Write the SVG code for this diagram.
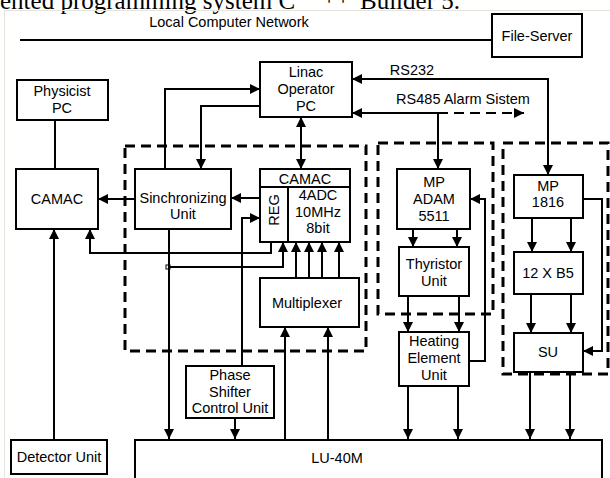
<svg xmlns="http://www.w3.org/2000/svg" width="610" height="478" viewBox="0 0 610 478">
<defs>
<marker id="ah" viewBox="0 0 10 10" refX="10" refY="5" markerWidth="10" markerHeight="10" markerUnits="userSpaceOnUse" orient="auto-start-reverse">
<path d="M0,0 L10,5 L0,10 z" fill="#000"/>
</marker>
<style>
.bx{fill:#fff;stroke:#000;stroke-width:2}
.dash{fill:none;stroke:#000;stroke-width:3;stroke-dasharray:10 6}
.ln{fill:none;stroke:#000;stroke-width:2}
.ar{fill:none;stroke:#000;stroke-width:2;marker-end:url(#ah)}
.t{font-family:"Liberation Sans",Arial,sans-serif;font-size:14.5px;fill:#000;text-anchor:middle}
.tm{font-family:"Liberation Serif","Times New Roman",serif;font-size:25px;fill:#000}
</style>
</defs>
<rect width="610" height="478" fill="#fff"/>
<text class="tm" x="0" y="9">ented programming system C</text>
<text class="tm" x="322" y="5" font-size="15">++</text>
<text class="tm" x="360" y="9">Builder 5.</text>
<rect x="4.5" y="10.5" width="620" height="480" fill="none" stroke="#e4e4dc" stroke-width="1"/>

<g id="dashed-groups">
<rect class="dash" x="125" y="146" width="241" height="205"/>
<rect class="dash" x="378" y="143" width="115" height="171"/>
<rect class="dash" x="503" y="143" width="105" height="231"/>
</g>

<g id="connectors">
<path class="ln" d="M20,40 H492"/>
<path class="ln" d="M55,120 V169"/>
<path class="ar" d="M54,440 V229"/>
<path class="ar" d="M271,242 V253 H90 V229"/>
<path class="ar" d="M169,267 H283 V242"/>
<rect x="166" y="265" width="4" height="4" fill="#fff" stroke="#000" stroke-width="1"/>
<path class="ar" d="M135,199 H98"/>
<path class="ar" d="M165,169 V89 H260"/>
<path class="ar" d="M260,106 H201 V169"/>
<path class="ar" d="M301,117 V169" marker-start="url(#ah)"/>
<path class="ar" d="M260,198 H231"/>
<path class="ar" d="M242,366 V218 H260"/>
<path class="ar" d="M296,278 V242"/>
<path class="ar" d="M309,278 V242"/>
<path class="ar" d="M322,278 V242"/>
<path class="ar" d="M339,278 V242"/>
<path class="ar" d="M285,440 V327"/>
<path class="ar" d="M328,440 V327"/>
<path class="ar" d="M169,229 V439"/>
<path class="ar" d="M235,418 V439"/>
<path class="ar" d="M352,79 H548 V175" marker-start="url(#ah)"/>
<path class="ln" d="M352,113 H438" marker-start="url(#ah)"/>
<path class="ar" d="M438,113 V169"/>
<path class="ar" d="M438,113 H524" stroke-width="3" stroke-dasharray="10 6"/>
<path class="ar" d="M413,229 V247"/>
<path class="ar" d="M457,229 V247"/>
<path class="ar" d="M408,296 V332"/>
<path class="ar" d="M459,296 V332"/>
<path class="ar" d="M469,361 H485 V199 H470"/>
<path class="ar" d="M408,386 V439"/>
<path class="ar" d="M458,386 V439"/>
<path class="ar" d="M532,218 V252"/>
<path class="ar" d="M571,218 V252"/>
<path class="ar" d="M531,294 V333"/>
<path class="ar" d="M571,294 V333"/>
<path class="ar" d="M583,199 H602 V351 H583"/>
<path class="ar" d="M530,372 V439"/>
<path class="ar" d="M570,372 V439"/>
</g>

<g id="labels">
<text class="t" x="229" y="27">Local Computer Network</text>
<text class="t" x="412" y="75">RS232</text>
<text class="t" x="463" y="104">RS485  Alarm Sistem</text>
</g>

<g id="file-server"><rect class="bx" x="492" y="14" width="90" height="43"/><text class="t" x="537" y="41">File-Server</text></g>
<g id="physicist-pc"><rect class="bx" x="17" y="80" width="91" height="40"/><text class="t" x="62" y="96">Physicist</text><text class="t" x="62" y="113">PC</text></g>
<g id="linac-pc"><rect class="bx" x="260" y="62" width="92" height="55" stroke-width="2.5"/><text class="t" x="306" y="77">Linac</text><text class="t" x="306" y="94">Operator</text><text class="t" x="306" y="111">PC</text></g>
<g id="camac-left"><rect class="bx" x="16" y="169" width="82" height="60"/><text class="t" x="57" y="204">CAMAC</text></g>
<g id="sync-unit"><rect class="bx" x="135" y="169" width="96" height="60"/><text class="t" x="183" y="203">Sinchronizing</text><text class="t" x="183" y="219">Unit</text></g>
<g id="camac-adc"><rect class="bx" x="260" y="169" width="90" height="73"/><path class="ln" d="M260,187 H350 M288,187 V242"/><text class="t" x="305" y="184">CAMAC</text><text class="t" transform="translate(279,210) rotate(-90)">REG</text><text class="t" x="318" y="200">4ADC</text><text class="t" x="318" y="217">10MHz</text><text class="t" x="318" y="233">8bit</text></g>
<g id="multiplexer"><rect class="bx" x="260" y="278" width="99" height="49"/><text class="t" x="307" y="308">Multiplexer</text></g>
<g id="phase-shifter"><rect class="bx" x="186" y="366" width="88" height="52"/><text class="t" x="230" y="380">Phase</text><text class="t" x="230" y="397">Shifter</text><text class="t" x="230" y="413">Control Unit</text></g>
<g id="detector-unit"><rect class="bx" x="11" y="440" width="96" height="34"/><text class="t" x="59" y="462">Detector Unit</text></g>
<g id="lu-40m"><rect class="bx" x="135" y="440" width="467" height="50"/><text class="t" x="337" y="463">LU-40M</text></g>
<g id="mp-adam"><rect class="bx" x="397" y="169" width="73" height="60"/><text class="t" x="434" y="187">MP</text><text class="t" x="434" y="204">ADAM</text><text class="t" x="434" y="221">5511</text></g>
<g id="thyristor"><rect class="bx" x="399" y="247" width="70" height="49"/><text class="t" x="434" y="269">Thyristor</text><text class="t" x="434" y="286">Unit</text></g>
<g id="heating"><rect class="bx" x="399" y="332" width="70" height="54"/><text class="t" x="434" y="346">Heating</text><text class="t" x="434" y="363">Element</text><text class="t" x="434" y="380">Unit</text></g>
<g id="mp-1816"><rect class="bx" x="514" y="175" width="69" height="43"/><text class="t" x="548" y="191">MP</text><text class="t" x="548" y="207">1816</text></g>
<g id="b5"><rect class="bx" x="514" y="252" width="69" height="42"/><text class="t" x="548" y="278">12 X B5</text></g>
<g id="su"><rect class="bx" x="514" y="333" width="69" height="39"/><text class="t" x="548" y="357">SU</text></g>
</svg>
